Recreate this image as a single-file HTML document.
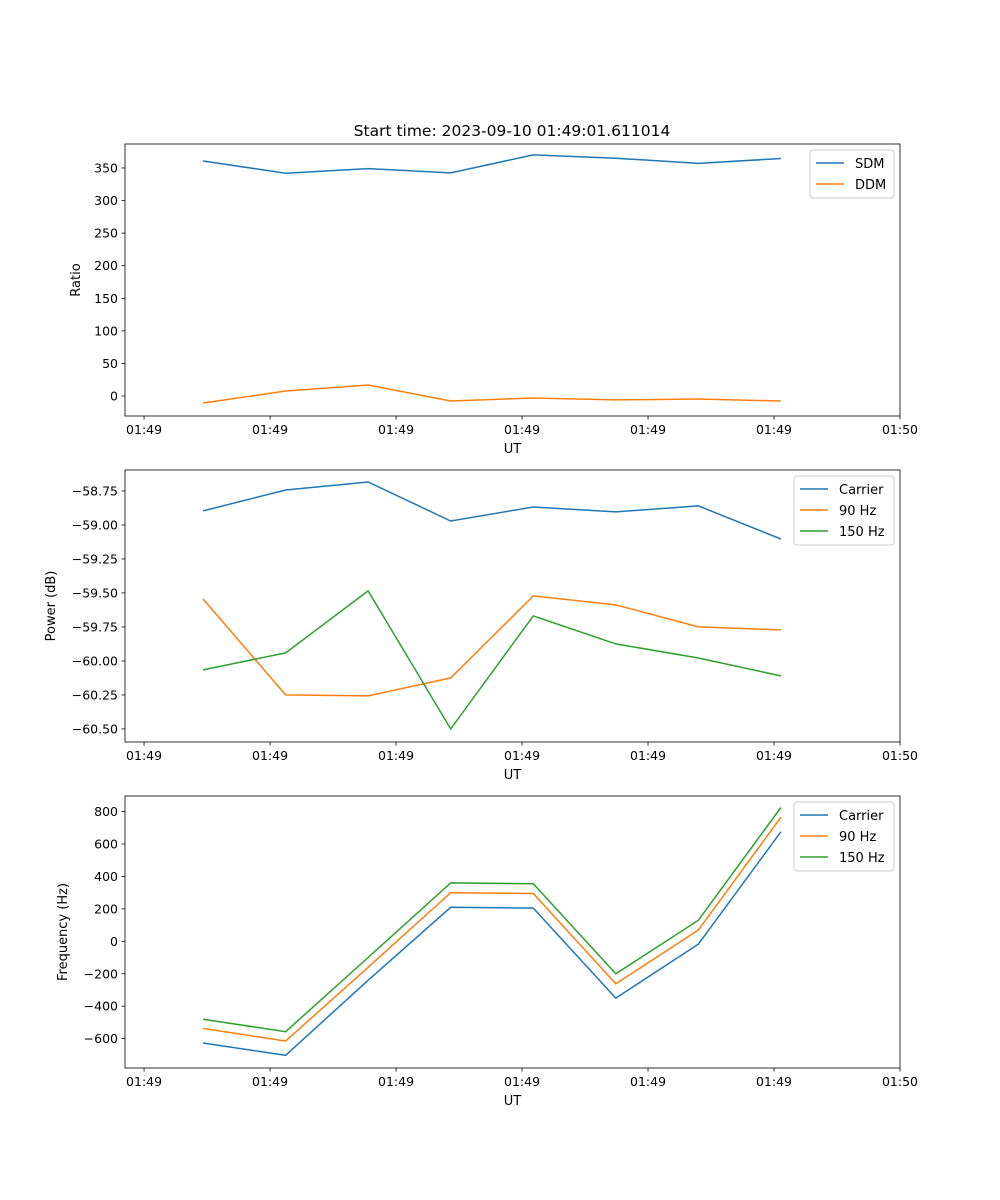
<!DOCTYPE html>
<html><head><meta charset="utf-8"><style>
body{margin:0;background:#fff}
svg{display:block;font-family:"DejaVu Sans","Liberation Sans",sans-serif}
</style></head><body>
<svg id="fig" width="1000" height="1200" xmlns="http://www.w3.org/2000/svg"></svg>
<script>
const times=[0,1,2,3,4,5,6,7];
const xTickVals=[-0.714,0.812,2.338,3.864,5.39,6.916,8.442];
const xTickLabels=["01:49","01:49","01:49","01:49","01:49","01:49","01:50"];
const sdm=[360.7,342,349,342.5,370,365,357,364.6];
const ddm=[-10.7,7.7,16.9,-7.7,-3,-6,-4.6,-7.7];
const pCarrier=[-58.897,-58.743,-58.684,-58.971,-58.868,-58.904,-58.860,-59.103];
const p90=[-59.544,-60.25,-60.257,-60.125,-59.522,-59.588,-59.75,-59.772];
const p150=[-60.066,-59.941,-59.485,-60.5,-59.669,-59.875,-59.978,-60.110];
const fCarrier=[-627,-703,-240,210,205,-350,-17,675];
const f90=[-537,-615,-160,300,295,-262,70,765];
const f150=[-480,-557,-100,360,355,-200,130,825];
const ticks1=[0,50,100,150,200,250,300,350];
const ticks2=[-58.75,-59.00,-59.25,-59.50,-59.75,-60.00,-60.25,-60.50];
const ticks3=[-600,-400,-200,0,200,400,600,800];

const NS="http://www.w3.org/2000/svg";
const svg=document.getElementById('fig');
function el(tag,attrs,parent){const e=document.createElementNS(NS,tag);for(const k in attrs)e.setAttribute(k,attrs[k]);(parent||svg).appendChild(e);return e;}
const L=125,R=900,xmin=-0.945,xmax=8.442;
const xs=t=>L+(t-xmin)/(xmax-xmin)*(R-L);
const C=["#1f77b4","#ff7f0e","#2ca02c"];

function panel(name,top,bot,ymin,ymax,yticks,fmt,ylabel,series,names,leg){
  const g=el('g',{});
  
  
  const ys=v=>bot-(v-ymin)/(ymax-ymin)*(bot-top);
  series.forEach((s,i)=>{
    const p=el('polyline',{points:s.map((v,j)=>xs(times[j]).toFixed(1)+','+ys(v).toFixed(1)).join(' '),fill:'none',stroke:C[i],'stroke-width':1.5},g);
    
    
  });
  const fr=el('rect',{x:L,y:top,width:R-L,height:bot-top,fill:'none',stroke:'#000','stroke-width':0.8},g);
  
  
  xTickVals.forEach((t,i)=>{
    const x=xs(t);
    el('line',{x1:x,x2:x,y1:bot,y2:bot+3.5,stroke:'#000','stroke-width':0.8},g);
    const tx=el('text',{x:x,y:bot+18,'text-anchor':'middle','font-size':12.5},g);
    tx.textContent=xTickLabels[i];
    
    
  });
  yticks.forEach(v=>{
    const y=ys(v);
    el('line',{x1:L-3.5,x2:L,y1:y,y2:y,stroke:'#000','stroke-width':0.8},g);
    const tx=el('text',{x:L-7,y:y+4.5,'text-anchor':'end','font-size':12.5},g);
    tx.textContent=fmt(v);
    
    
  });
  const xl=el('text',{x:(L+R)/2,y:bot+37,'text-anchor':'middle','font-size':13},g);
  xl.textContent='UT';
  
  
  const yl=el('text',{x:0,y:0,'text-anchor':'middle','font-size':13,transform:`translate(${leg.yx},${(top+bot)/2}) rotate(-90)`},g);
  yl.textContent=ylabel;
  
  
  const lg=el('g',{},g);
  
  
  el('rect',{x:leg.x,y:top+6,width:R-6-leg.x,height:names.length*21+6,rx:3,fill:'#fff',stroke:'#ccc','stroke-width':1},lg);
  names.forEach((n,i)=>{
    const y=top+6+13+i*21;
    el('line',{x1:leg.x+6,x2:leg.x+34,y1:y,y2:y,stroke:C[i],'stroke-width':1.5},lg);
    const t=el('text',{x:leg.x+45,y:y+5,'font-size':13},lg);
    t.textContent=n;
    
    
  });
}
const title=el('text',{x:512,y:136,'text-anchor':'middle','font-size':15.5});
title.textContent='Start time: 2023-09-10 01:49:01.611014';


panel('ratio-panel',144,416,-30.7,386.8,ticks1,v=>String(v),'Ratio',[sdm,ddm],['SDM','DDM'],{x:810,yx:80});
panel('power-panel',470,742,-60.596,-58.596,ticks2,v=>v.toFixed(2).replace('-','−'),'Power (dB)',[pCarrier,p90,p150],['Carrier','90 Hz','150 Hz'],{x:794,yx:55});
panel('frequency-panel',796,1068,-781,896,ticks3,v=>String(v).replace('-','−'),'Frequency (Hz)',[fCarrier,f90,f150],['Carrier','90 Hz','150 Hz'],{x:794,yx:67});
</script>
</body></html>
